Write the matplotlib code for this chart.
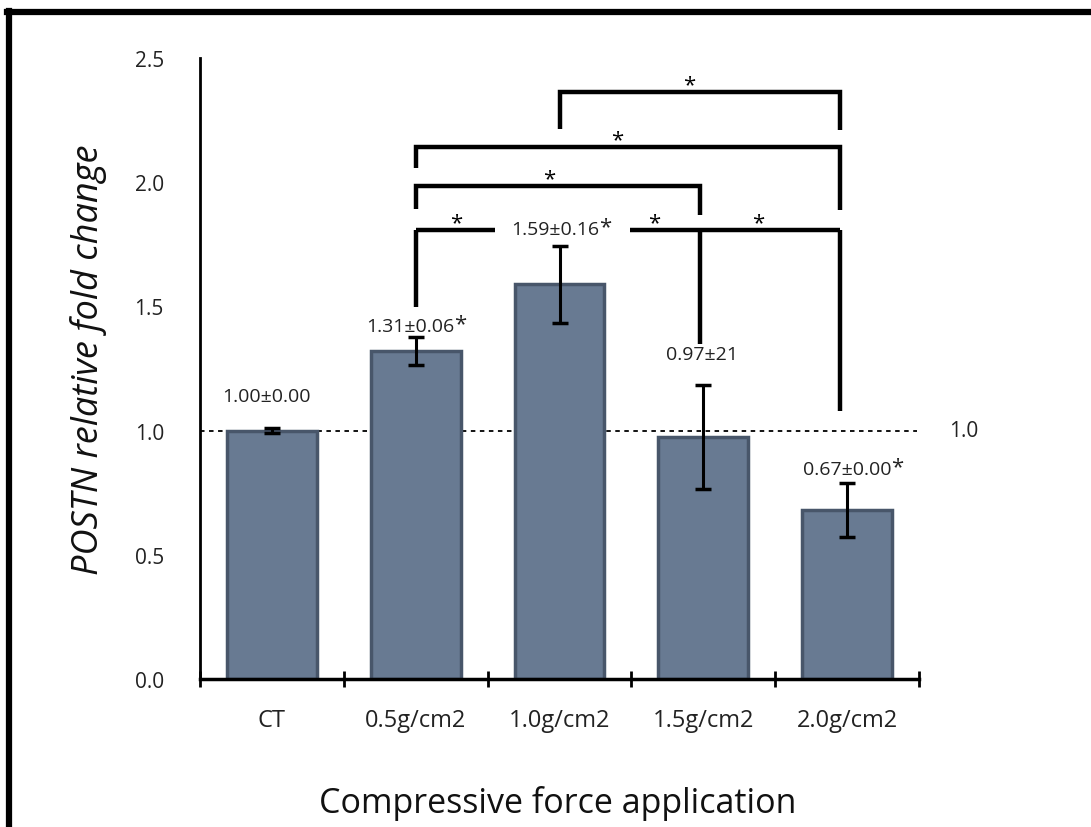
import matplotlib
matplotlib.use("Agg")
import matplotlib.pyplot as plt
from matplotlib.lines import Line2D

plt.rcParams['font.family'] = ['Open Sans', 'DejaVu Sans']

categories = ["CT", "0.5g/cm2", "1.0g/cm2", "1.5g/cm2", "2.0g/cm2"]
means = [1.00, 1.32, 1.59, 0.975, 0.68]
errors = [0.01, 0.055, 0.155, 0.21, 0.11]
labels = ["1.00±0.00", "1.31±0.06", "1.59±0.16", "0.97±21", "0.67±0.00"]
label_star = [False, True, True, False, True]
label_y = [1.14, 1.42, 1.81, 1.31, 0.845]
label_x = [-0.04, 0.96, 1.97, 2.99, 4.00]
ref_value = 1.0
yticks = [0.0, 0.5, 1.0, 1.5, 2.0, 2.5]

# significance brackets: (x_left, x_right, y_top, y_left_end, y_right_end, star_x)
brackets = [
    (2.0, 3.95, 2.362, 2.215, 2.209, 2.9),
    (1.0, 3.95, 2.141, 2.056, 1.887, 2.4),
    (1.0, 2.98, 1.984, 1.891, 1.867, 1.93),
]
# lower bracket line (broken around the 1.59 label)
low_y = 1.807
low_segments = [(1.0, 1.55), (2.49, 3.95)]
low_legs = [(1.0, 1.497), (2.98, 1.348), (3.95, 1.078)]
low_stars = [1.28, 2.66, 3.38]

fig = plt.figure(figsize=(10.91, 8.28), dpi=100)
W, H = 1091, 828
ax = fig.add_axes([200 / W, 1 - 680 / H, 719 / W, 621 / H])

x = range(len(categories))
ax.bar(x, means, width=0.625, color="#687a92", edgecolor="#48566a", linewidth=2.5, zorder=2)
ax.errorbar(x, means, yerr=errors, fmt="none", ecolor="black", elinewidth=2.2,
            capsize=6, capthick=2.5, zorder=3)

ax.set_xlim(-0.5, 4.5)
ax.set_ylim(0, 2.5)

# reference line
ax.axhline(ref_value, xmin=0, xmax=0.997, color="black", linestyle=(0, (2.5, 2.5)), linewidth=1.3, zorder=1)
ax.text(4.71, ref_value, "1.0", fontsize=15, ha="left", va="center", color="#222222")

# spines
for s in ["top", "right"]:
    ax.spines[s].set_visible(False)
ax.spines["left"].set_linewidth(2)
ax.spines["bottom"].set_linewidth(2.5)

ax.set_yticks(yticks)
ax.set_yticklabels([f"{v:.1f}" for v in yticks], fontsize=15, color="#222222")
ax.tick_params(axis="y", length=0, pad=26)

ax.set_xticks([i - 0.5 for i in range(len(categories) + 1)])
ax.set_xticklabels([])
ax.set_xticks(list(x), minor=True)
ax.set_xticklabels(categories, minor=True, fontsize=17, color="#222222")
ax.tick_params(axis="x", which="major", direction="inout", length=11.5, width=2)
ax.tick_params(axis="x", which="minor", length=0, pad=21)

# value labels
for xi, yi, lab, st in zip(label_x, label_y, labels, label_star):
    t = ax.text(xi, yi, lab, fontsize=14, ha="center", va="center", color="#222222",
                bbox=dict(facecolor="white", edgecolor="none", pad=1) if 1.5 < xi < 2.5 else None,
                zorder=5)
    if st:
        ax.annotate("*", xy=(1.0, 1.0), xycoords=t, xytext=(0, 3), textcoords="offset points",
                    ha="left", va="top", fontsize=16, color="#222222", zorder=5)

# brackets
lw = 3.2
for xl, xr, yt, yl, yr, sx in brackets:
    ax.plot([xl, xl, xr, xr], [yl, yt, yt, yr], color="black", linewidth=lw,
            solid_joinstyle="miter", solid_capstyle="butt", zorder=4)
    ax.text(sx, yt - 0.013, "*", fontsize=16, ha="center", va="bottom")

for xa, xb in low_segments:
    ax.plot([xa, xb], [low_y, low_y], color="black", linewidth=lw, solid_capstyle="butt", zorder=4)
for lx, ly in low_legs:
    ax.plot([lx, lx], [low_y, ly], color="black", linewidth=lw, solid_capstyle="butt", zorder=4)
for sx in low_stars:
    ax.text(sx, low_y - 0.013, "*", fontsize=16, ha="center", va="bottom")

# axis titles
fig.text(89 / W, 1 - 360 / H, "POSTN relative fold change", rotation=90, fontsize=26,
         style="italic", ha="center", va="center", color="#111111")
fig.text(558 / W, 1 - 813 / H, "Compressive force application", fontsize=24.5,
         ha="center", va="baseline", color="#111111")

# outer frame (left and top edges)
fig.add_artist(Line2D([9 / W, 9 / W], [0, 1 - 12 / H], transform=fig.transFigure, color="black", linewidth=4.5))
fig.add_artist(Line2D([7 / W, 1], [1 - 13 / H, 1 - 13 / H], transform=fig.transFigure, color="black", linewidth=4.5))

fig.savefig("out.png", dpi=100, facecolor="white")
